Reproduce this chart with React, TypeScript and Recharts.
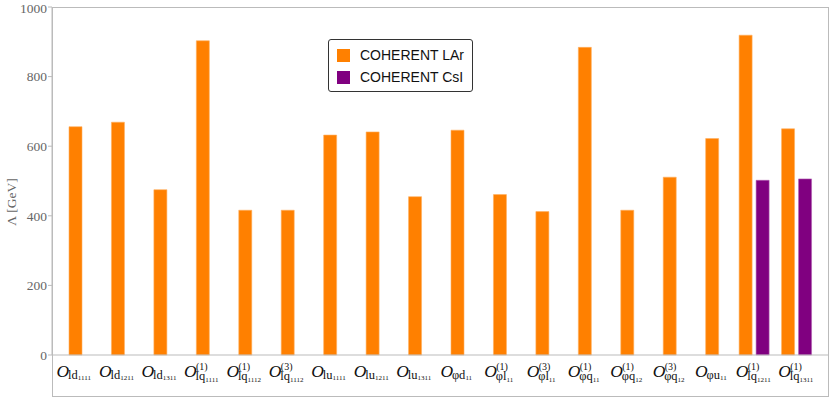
import React from 'react';
import { BarChart, Bar, XAxis, YAxis, Label } from 'recharts';

// operator labels: superscript, subscript, sub-subscript index
const labelSup = ['', '', '', '(1)', '(1)', '(3)', '', '', '', '', '(1)', '(3)', '(1)', '(1)', '(3)', '', '(1)', '(1)'];
const labelSub = ['ld', 'ld', 'ld', 'lq', 'lq', 'lq', 'lu', 'lu', 'lu', 'φd', 'φl', 'φl', 'φq', 'φq', 'φq', 'φu', 'lq', 'lq'];
const labelIdx = ['1111', '1211', '1311', '1111', '1112', '1112', '1111', '1211', '1311', '11', '11', '11', '11', '12', '12', '11', '1211', '1311'];

// Λ [GeV] bounds
const larValues = [656, 669, 475, 903, 416, 416, 632, 641, 455, 646, 461, 412, 884, 416, 511, 622, 919, 650];
const csiValues: (number | null)[] = [null, null, null, null, null, null, null, null, null, null, null, null, null, null, null, null, 502, 506];

const yTicks = [0, 200, 400, 600, 800, 1000];

const ORANGE = '#ff8000';
const PURPLE = '#800080';
const SERIF = '"Liberation Serif", "DejaVu Serif", serif';
const SANS = '"Liberation Sans", Arial, sans-serif';

// single-bar groups sit on one axis, paired groups on a hidden twin axis so both centre
const data = labelSub.map((s, i) => ({
  name: `O_${s}${labelIdx[i]}${labelSup[i]}`,
  larSolo: csiValues[i] == null ? larValues[i] : null,
  larPair: csiValues[i] != null ? larValues[i] : null,
  csi: csiValues[i],
}));

const charW = (c: string) => (c === 'φ' ? 0.55 : c === 'l' ? 0.278 : 0.5);

const OperatorTick = (props: any) => {
  const { x, y, payload } = props;
  const i = payload.index;
  const sup = labelSup[i];
  const sub = labelSub[i];
  const idx = labelIdx[i];
  const wO = 11.5;
  const wSub = sub.split('').reduce((a, c) => a + charW(c), 0) * 12.5;
  const wIdx = idx.length * 0.5 * 7;
  const total = wO + Math.max(wSub + wIdx, sup ? 12 : 0);
  const left = x - total / 2 - 1;
  const subY = sup ? y + 25 : y + 23.7;
  return (
    <text x={left} y={y + 22} fontFamily={SERIF} fill="#111">
      <tspan fontStyle="italic" fontSize={17.5}>O</tspan>
      {sup ? <tspan x={left + wO + 0.5} y={y + 14.8} fontSize={10}>{sup}</tspan> : null}
      <tspan x={left + wO} y={subY} fontSize={12.5}>{sub}</tspan>
      <tspan y={subY + (sup ? 2.3 : 1.5)} fontSize={7}>{idx}</tspan>
    </text>
  );
};

const LegendBox = () => (
  <div
    style={{
      position: 'absolute',
      left: 328,
      top: 39,
      width: 145,
      height: 53,
      boxSizing: 'border-box',
      border: '1px solid #333',
      borderRadius: 3,
      background: '#fff',
      fontFamily: SANS,
      fontSize: 14,
      color: '#111',
    }}
  >
    {[
      { c: ORANGE, t: 'COHERENT LAr', top: 8 },
      { c: PURPLE, t: 'COHERENT CsI', top: 30 },
    ].map((it) => (
      <div key={it.t} style={{ position: 'absolute', left: 8, top: it.top, display: 'flex', alignItems: 'center' }}>
        <span style={{ display: 'inline-block', width: 13, height: 13, background: it.c }} />
        <span style={{ marginLeft: 10, lineHeight: '14px' }}>{it.t}</span>
      </div>
    ))}
  </div>
);

export default function App() {
  return (
    <div style={{ position: 'absolute', left: 0, top: 0, width: 830, height: 417, background: '#fff' }}>
      <BarChart
        width={830}
        height={417}
        data={data}
        margin={{ top: 7, right: 2, bottom: 21, left: 0 }}
        barGap={4}
        barSize={13}
      >
        <XAxis
          xAxisId="main"
          dataKey="name"
          interval={0}
          tickSize={0}
          tickMargin={0}
          tickLine={false}
          axisLine={{ stroke: '#bbb' }}
          tick={<OperatorTick />}
          height={41}
          padding={{ left: 2, right: 10 }}
        />
        <XAxis xAxisId="pair" dataKey="name" hide padding={{ left: 2, right: 10 }} />
        <YAxis
          width={52}
          domain={[0, 1000]}
          ticks={yTicks}
          tickSize={4}
          tickMargin={1}
          axisLine={{ stroke: '#bbb' }}
          tickLine={{ stroke: '#bbb' }}
          tick={{ fill: '#666', fontFamily: SERIF, fontSize: 13.5 }}
        >
          <Label
            content={() => (
              <text
                x={16}
                y={202}
                transform="rotate(-90 16 202)"
                textAnchor="middle"
                fontFamily={SERIF}
                fontSize={13.5}
                fill="#666"
              >
                Λ [GeV]
              </text>
            )}
          />
        </YAxis>
        <Bar xAxisId="main" dataKey="larSolo" name="COHERENT LAr" fill={ORANGE} stroke="#ffb060" strokeWidth={0.6} isAnimationActive={false} />
        <Bar xAxisId="pair" dataKey="larPair" name="COHERENT LAr" fill={ORANGE} stroke="#ffb060" strokeWidth={0.6} isAnimationActive={false} />
        <Bar xAxisId="pair" dataKey="csi" name="COHERENT CsI" fill={PURPLE} stroke="#b060b0" strokeWidth={0.6} isAnimationActive={false} />
      </BarChart>
      <LegendBox />
      <div
        style={{
          position: 'absolute',
          left: 52,
          top: 7,
          width: 777,
          height: 390,
          boxSizing: 'border-box',
          border: '1px solid #bbb',
          pointerEvents: 'none',
        }}
      />
    </div>
  );
}
